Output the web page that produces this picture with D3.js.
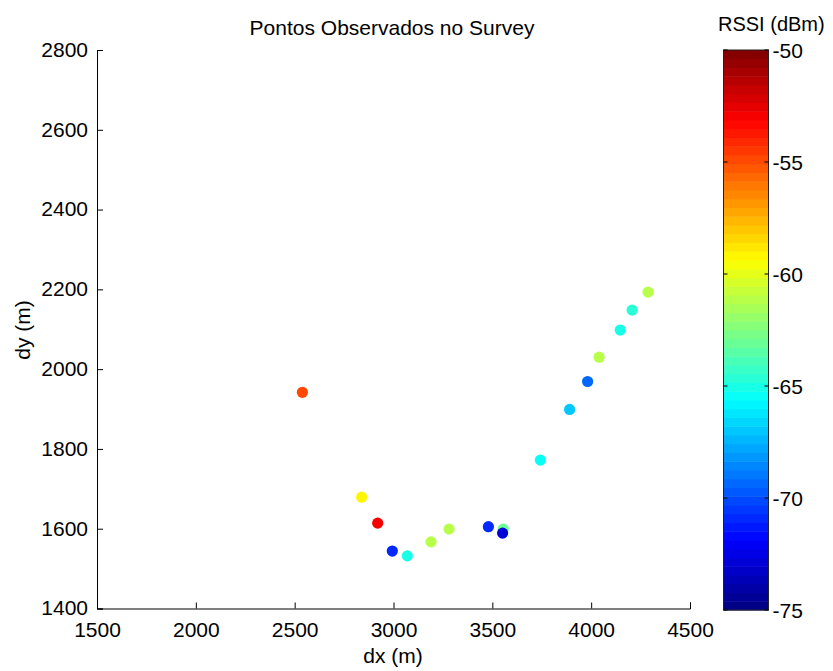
<!DOCTYPE html>
<html>
<head>
<meta charset="utf-8">
<script src="https://cdn.jsdelivr.net/npm/d3@7"></script>
<style>
  body { margin: 0; background: #fff; }
  text { font-family: "Liberation Sans", Arial, sans-serif; fill: #000; }
</style>
</head>
<body>
<div id="chart"></div>
<script>
// survey points (dx, dy in m) and RSSI in dBm
var dx   = [2539, 2839, 2920, 2994, 3070, 3190, 3281, 3480, 3555, 3552, 4288, 4207, 4147, 4040, 3982, 3891, 3743];
var dy   = [1942, 1679, 1614, 1544, 1532, 1567, 1599, 1605, 1599, 1589, 2193, 2148, 2098, 2030, 1969, 1899, 1772];
var rssi = [-54.7, -59, -53, -71, -65, -61.2, -61, -71, -63, -72.8, -61, -64.7, -65, -61, -69.2, -67, -65.3];

var xTicks = [1500, 2000, 2500, 3000, 3500, 4000, 4500];
var yTicks = [1400, 1600, 1800, 2000, 2200, 2400, 2600, 2800];
var cTicks = [-75, -70, -65, -60, -55, -50];

var width = 833, height = 671;
var svg = d3.select("#chart").append("svg")
    .attr("width", width).attr("height", height);

var x = d3.scaleLinear().domain([1500, 4500]).range([97, 690]);
var y = d3.scaleLinear().domain([1400, 2800]).range([608.5, 50]);

// matlab jet, 64 levels
function jet(t) {
  var c = function(v) { return Math.max(0, Math.min(1, v)); };
  var r = c(1.5 - Math.abs(4 * t - 3)), g = c(1.5 - Math.abs(4 * t - 2)), b = c(1.5 - Math.abs(4 * t - 1));
  return d3.rgb(r * 255, g * 255, b * 255).toString();
}
var nLevels = 64;
var cmin = -75, cmax = -50;
function colorOf(v) {
  var i = Math.floor((v - cmin) / (cmax - cmin) * nLevels);
  i = Math.max(0, Math.min(nLevels - 1, i));
  return jet((i + 0.5) / nLevels);
}

// axes (box off, ticks inward)
var xAxis = svg.append("g").attr("transform", "translate(0,608.5)")
  .call(d3.axisBottom(x).tickValues(xTicks).tickSize(-6).tickPadding(14).tickFormat(d3.format("d")));
var yAxis = svg.append("g").attr("transform", "translate(97,0)")
  .call(d3.axisLeft(y).tickValues(yTicks).tickSize(-6).tickPadding(9).tickFormat(d3.format("d")));

[xAxis, yAxis].forEach(function(a) {
  a.select(".domain").attr("stroke", "#000");
  a.selectAll(".tick line").attr("stroke", "#000");
  a.selectAll("text").style("font-size", "21px").attr("fill", "#000");
});
yAxis.selectAll("text").attr("dy", "0.3em");

// points
svg.append("g").selectAll("circle")
  .data(dx.map(function(d, i) { return { x: d, y: dy[i], v: rssi[i] }; }))
  .enter().append("circle")
  .attr("cx", function(d) { return x(d.x); })
  .attr("cy", function(d) { return y(d.y); })
  .attr("r", 5.6)
  .attr("fill", function(d) { return colorOf(d.v); });

// titles
svg.append("text").attr("x", 392).attr("y", 35).attr("text-anchor", "middle")
  .style("font-size", "21px").text("Pontos Observados no Survey");
svg.append("text").attr("x", 393).attr("y", 663).attr("text-anchor", "middle")
  .style("font-size", "21px").text("dx (m)");
svg.append("text").attr("transform", "translate(30,330) rotate(-90)").attr("text-anchor", "middle")
  .style("font-size", "21px").text("dy (m)");

// colorbar
var cb = { x0: 723.5, x1: 768.5 };
var cy = d3.scaleLinear().domain([cmin, cmax]).range([610, 50]);
var bands = d3.range(nLevels);
svg.append("g").selectAll("rect").data(bands).enter().append("rect")
  .attr("x", cb.x0)
  .attr("width", cb.x1 - cb.x0)
  .attr("y", function(i) { return cy(cmin + (i + 1) * (cmax - cmin) / nLevels); })
  .attr("height", function(i) { return cy(cmin + i * (cmax - cmin) / nLevels) - cy(cmin + (i + 1) * (cmax - cmin) / nLevels) + 0.5; })
  .attr("fill", function(i) { return jet((i + 0.5) / nLevels); });
svg.append("rect").attr("x", cb.x0).attr("y", 50).attr("width", cb.x1 - cb.x0).attr("height", 560)
  .attr("fill", "none").attr("stroke", "#222").attr("stroke-width", 1);

var ct = svg.append("g").selectAll("g").data(cTicks).enter().append("g");
ct.append("line").attr("x1", cb.x0).attr("x2", cb.x0 + 4)
  .attr("y1", function(d) { return cy(d); }).attr("y2", function(d) { return cy(d); }).attr("stroke", "#000");
ct.append("line").attr("x1", cb.x1 - 4).attr("x2", cb.x1)
  .attr("y1", function(d) { return cy(d); }).attr("y2", function(d) { return cy(d); }).attr("stroke", "#000");
ct.append("text").attr("x", cb.x1 + 4).attr("y", function(d) { return cy(d); }).attr("dy", "0.38em")
  .style("font-size", "21px").text(function(d) { return d; });

svg.append("text").attr("x", 718).attr("y", 31).style("font-size", "20px").text("RSSI (dBm)");
</script>
</body>
</html>
